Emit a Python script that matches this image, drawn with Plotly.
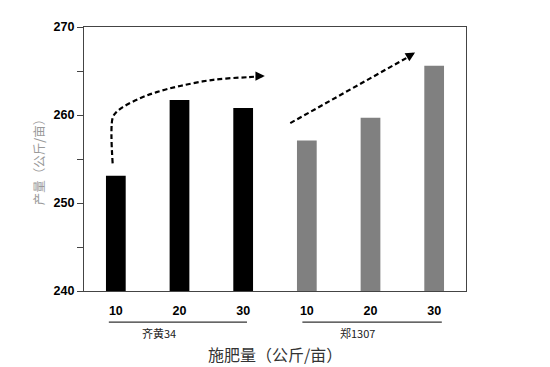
import plotly.graph_objects as go

# Data
categories = ["10", "20", "30", "10", "20", "30"]
groups = ["齐黄34", "郑1307"]
yields = [253.1, 261.7, 260.8, 257.1, 259.7, 265.6]
bar_colors = ["#000000", "#000000", "#000000", "#808080", "#808080", "#808080"]
y_ticks = [240, 250, 260, 270]

# Trend arrows (data coords: x = category index, y = yield)
curve1_x = [-0.05, -0.05, 0.014, 0.11, 0.38, 0.64, 1.01, 1.53, 2.07, 2.24]
curve1_y = [254.5, 259.67, 260.36, 260.9, 261.9, 262.6, 263.3, 264.0, 264.3, 264.38]
curve2_x = [2.74, 4.62]
curve2_y = [259.08, 266.7]

x_idx = list(range(len(categories)))

fig = go.Figure()
fig.add_trace(go.Bar(x=x_idx, y=[v - 240 for v in yields], base=240,
                     marker=dict(color=bar_colors, line=dict(width=0)),
                     width=0.31, showlegend=False))
fig.add_trace(go.Scatter(x=curve1_x, y=curve1_y, mode="lines",
                         line=dict(color="black", width=2.2, dash="5px,3px", shape="spline"),
                         showlegend=False, hoverinfo="skip"))
fig.add_trace(go.Scatter(x=curve2_x, y=curve2_y, mode="lines",
                         line=dict(color="black", width=2.2, dash="5px,3px"),
                         showlegend=False, hoverinfo="skip"))

# arrowheads
fig.add_annotation(x=2.34, y=264.42, ax=-8, ay=0, xref="x", yref="y",
                   showarrow=True, arrowhead=2, arrowsize=0.85, arrowwidth=2.2,
                   arrowcolor="black", text="")
fig.add_annotation(x=4.70, y=267.1, ax=-7, ay=4.1, xref="x", yref="y",
                   showarrow=True, arrowhead=2, arrowsize=0.85, arrowwidth=2.2,
                   arrowcolor="black", text="")

# group underlines and labels
group_spans = [(-0.11, 2.06), (2.93, 5.12)]
group_label_x = [0.68, 3.8]
for (x0, x1), lx, g in zip(group_spans, group_label_x, groups):
    fig.add_shape(type="line", xref="x", yref="paper", x0=x0, x1=x1,
                  y0=-0.118, y1=-0.118, line=dict(color="#333333", width=1.2))
    fig.add_annotation(x=lx, y=-0.159, xref="x", yref="paper", text=g,
                       xanchor="center", yanchor="middle",
                       showarrow=False, font=dict(size=11, color="#222222",
                                                  family="Noto Sans CJK SC"))

fig.add_annotation(x=0.5, y=-0.24, xref="paper", yref="paper",
                   text="施肥量（公斤/亩）", showarrow=False,
                   xanchor="center", yanchor="middle",
                   font=dict(size=16, color="#333333", family="Noto Sans CJK SC"))
fig.add_annotation(x=-0.12, y=0.5, xref="paper", yref="paper",
                   text="产量（公斤/亩）", showarrow=False, textangle=-90,
                   xanchor="center", yanchor="middle",
                   font=dict(size=12.5, color="#999999", family="Noto Sans CJK SC"))

fig.update_layout(
    width=550, height=367,
    margin=dict(l=76, r=92, t=12, b=84),
    plot_bgcolor="white", paper_bgcolor="white",
)
fig.update_xaxes(range=[-0.5, 5.5], tickvals=x_idx,
                 ticktext=[f"<b>{c}</b>" for c in categories],
                 tickfont=dict(size=12.5, color="black", family="Liberation Sans"),
                 ticks="", ticklabelstandoff=8,
                 showline=True, linecolor="#444444", linewidth=1.3, mirror=True,
                 showgrid=False, zeroline=False)
fig.update_yaxes(range=[240, 270], tickvals=y_ticks,
                 ticktext=[f"<b>{t}</b>" for t in y_ticks],
                 tickfont=dict(size=12.5, color="black", family="Liberation Sans"),
                 ticks="outside", ticklen=6, tickcolor="#444444",
                 minor=dict(ticks="outside", tickvals=[245, 255, 265], ticklen=6, tickcolor="#444444"),
                 showline=True, linecolor="#444444", linewidth=1.3, mirror=True,
                 showgrid=False, zeroline=False)

fig.write_html("out.html")
